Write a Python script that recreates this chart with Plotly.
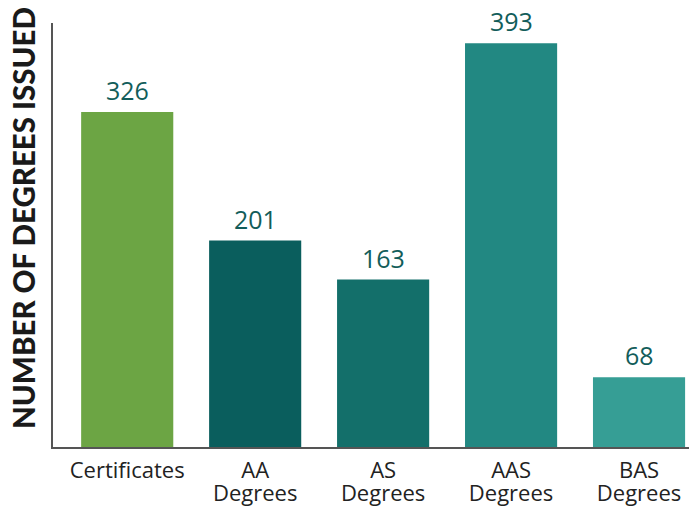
import plotly.graph_objects as go

categories = ["Certificates", "AA<br>Degrees", "AS<br>Degrees", "AAS<br>Degrees", "BAS<br>Degrees"]
values = [326, 201, 163, 393, 68]
bar_colors = ["#6ca544", "#0a5e5d", "#136f6a", "#228882", "#369e95"]
value_labels = [str(v) for v in values]
y_title = "NUMBER OF DEGREES ISSUED"

tick_text = [
    "<br>".join('<span style="font-size:22px">%s</span>' % part for part in c.split("<br>"))
    for c in categories
]

fig = go.Figure()
fig.add_trace(go.Bar(
    x=categories, y=values,
    marker=dict(color=bar_colors, line=dict(width=0)),
    width=0.72,
    hoverinfo="skip",
))

for c, v, t in zip(categories, values, value_labels):
    fig.add_annotation(
        x=c, y=v, text=t, showarrow=False, yanchor="bottom", yshift=4,
        borderpad=0,
        font=dict(family="Open Sans", size=25, color="#125d5a"),
    )

fig.add_annotation(
    xref="paper", yref="paper", x=-0.046, y=0.541,
    text=y_title, textangle=-90, showarrow=False,
    xanchor="center", yanchor="middle", borderpad=0,
    font=dict(family="Lato", size=29.5, color="#1a1a1a", weight=900),
)

fig.update_layout(
    width=689, height=500,
    margin=dict(l=45, r=0, t=15, b=61),
    paper_bgcolor="white", plot_bgcolor="white",
    showlegend=False,
    xaxis=dict(
        range=[-0.58, 4.453], automargin=False,
        showline=True, linecolor="#555555", linewidth=1.5,
        showgrid=False, ticks="", zeroline=False,
        ticklabelstandoff=8,
        tickmode="array", tickvals=categories, ticktext=tick_text,
        tickfont=dict(family="Open Sans", size=17.5, color="#222222"),
    ),
    yaxis=dict(
        range=[0, 412.7], automargin=False,
        showline=True, linecolor="#555555", linewidth=1.5,
        showgrid=False, zeroline=False, showticklabels=False, ticks="",
    ),
)

fig.write_html("out.html")
